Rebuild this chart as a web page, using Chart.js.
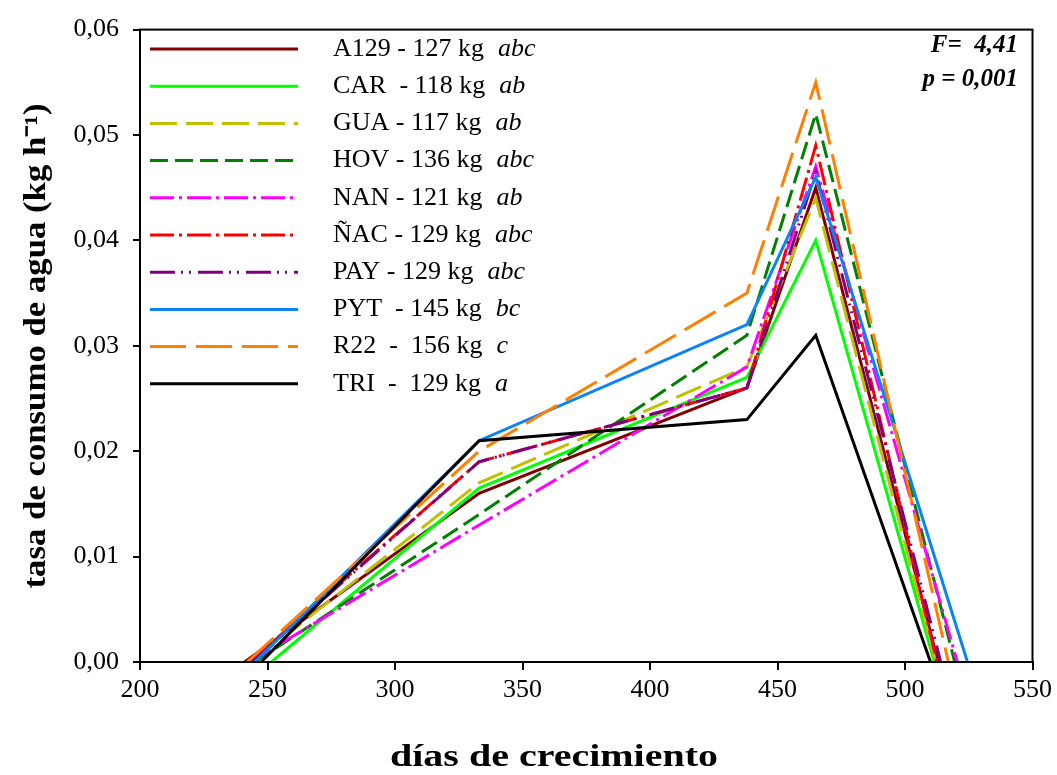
<!DOCTYPE html>
<html>
<head>
<meta charset="utf-8">
<script src="https://cdn.jsdelivr.net/npm/chart.js@4"></script>
<style>
  html, body { margin: 0; padding: 0; background: #fff; }
  canvas { display: block; }
</style>
</head>
<body>
<canvas id="c" width="1057" height="775"></canvas>
<script>
// ---- data ----
const seriesNames  = ['A129', 'CAR', 'GUA', 'HOV', 'NAN', 'ÑAC', 'PAY', 'PYT', 'R22', 'TRI'];
const legendLabels = ['A129 - 127 kg', 'CAR  - 118 kg', 'GUA - 117 kg', 'HOV - 136 kg', 'NAN - 121 kg',
                      'ÑAC - 129 kg', 'PAY - 129 kg', 'PYT  - 145 kg', 'R22  -  156 kg', 'TRI  -  129 kg'];
const groupLetters = ['abc', 'ab', 'ab', 'abc', 'ab', 'abc', 'abc', 'bc', 'c', 'a'];
const startDays    = [241, 251.5, 244, 245, 243, 243, 244, 245, 242, 247.5];
const midDays      = [333, 438, 465];
const endDays      = [513, 511.5, 512, 519.5, 520.5, 512.5, 514, 524.5, 517, 510];
const values333    = [0.016, 0.0165, 0.017, 0.014, 0.013, 0.019, 0.019, 0.021, 0.020, 0.021];
const values438    = [0.026, 0.027, 0.028, 0.031, 0.028, 0.026, 0.026, 0.032, 0.035, 0.023];
const values465    = [0.045, 0.040, 0.044, 0.052, 0.047, 0.049, 0.0465, 0.046, 0.055, 0.031];
const xTicks = [200, 250, 300, 350, 400, 450, 500, 550];
const yTicks = [0, 0.01, 0.02, 0.03, 0.04, 0.05, 0.06];
const xTitle = 'días de crecimiento';
const yTitle = 'tasa de consumo de agua (kg h⁻¹)';
const statF = 'F=  4,41';
const statP = 'p = 0,001';

// ---- styles ----
const colors = ['#800000', '#00FF00', '#C0C000', '#008000', '#FF00FF', '#FF0000', '#800080', '#0A84F5', '#FF8000', '#000000'];
const dashes = [[], [], [27, 9], [18, 7], [24, 5, 3, 5], [24, 5, 3, 5], [25, 6, 2, 6, 2, 7], [], [36, 10], []];

const SERIF = '"Liberation Serif", "Times New Roman", serif';

const datasets = seriesNames.map((name, i) => ({
  label: name,
  data: [
    { x: startDays[i], y: 0 },
    { x: midDays[0], y: values333[i] },
    { x: midDays[1], y: values438[i] },
    { x: midDays[2], y: values465[i] },
    { x: endDays[i], y: 0 }
  ],
  borderColor: colors[i],
  backgroundColor: colors[i],
  borderDash: dashes[i],
  borderWidth: 3,
  pointRadius: 0,
  tension: 0,
  fill: false,
  order: 20 - i
}));

function stretchedText(ctx, text, x, y, targetWidth, rotate) {
  const w = ctx.measureText(text).width;
  const s = targetWidth / w;
  ctx.save();
  ctx.translate(x, y);
  if (rotate) ctx.rotate(-Math.PI / 2);
  ctx.scale(s, 1);
  ctx.textAlign = 'center';
  ctx.textBaseline = 'middle';
  ctx.fillText(text, 0, 0);
  ctx.restore();
}

const framePlugin = {
  id: 'frame',
  afterDraw(chart) {
    const { ctx, chartArea: a } = chart;
    ctx.save();
    ctx.strokeStyle = '#000';
    ctx.lineWidth = 2;
    ctx.strokeRect(a.left, a.top, a.right - a.left, a.bottom - a.top);
    // axis titles
    ctx.fillStyle = '#000';
    ctx.font = 'bold 31px ' + SERIF;
    stretchedText(ctx, xTitle, 554, 758, 328, false);
    stretchedText(ctx, yTitle, 37, 346, 485, true);
    ctx.restore();
  }
};

const legendPlugin = {
  id: 'customLegend',
  afterDraw(chart) {
    const { ctx } = chart;
    ctx.save();
    chart.data.datasets.forEach((ds, i) => {
      const y = 49 + i * 37.2;
      ctx.beginPath();
      ctx.strokeStyle = ds.borderColor;
      ctx.lineWidth = 3;
      ctx.setLineDash(ds.borderDash || []);
      ctx.moveTo(150, y);
      ctx.lineTo(298, y);
      ctx.stroke();
      ctx.setLineDash([]);
      ctx.fillStyle = '#000';
      ctx.textBaseline = 'middle';
      ctx.textAlign = 'left';
      ctx.font = '26px ' + SERIF;
      ctx.fillText(legendLabels[i], 333, y);
      const w = ctx.measureText(legendLabels[i]).width;
      ctx.font = 'italic 26px ' + SERIF;
      ctx.fillText(groupLetters[i], 333 + w + 14, y);
    });
    ctx.font = 'bold italic 25px ' + SERIF;
    ctx.textAlign = 'right';
    ctx.textBaseline = 'middle';
    ctx.fillStyle = '#000';
    ctx.fillText(statF, 1018, 46);
    ctx.fillText(statP, 1018, 80);
    ctx.restore();
  }
};

new Chart(document.getElementById('c'), {
  type: 'line',
  data: { datasets },
  options: {
    responsive: false,
    devicePixelRatio: 1,
    animation: false,
    layout: { padding: { left: 0, top: 20, right: 24, bottom: 0 } },
    plugins: { legend: { display: false }, tooltip: { enabled: false } },
    scales: {
      x: {
        type: 'linear',
        min: xTicks[0],
        max: xTicks[xTicks.length - 1],
        afterFit(scale) { scale.height = 113; },
        afterBuildTicks(scale) { scale.ticks = xTicks.map(v => ({ value: v })); },
        ticks: { color: '#000', font: { family: SERIF, size: 26 }, padding: 5, maxRotation: 0,
                 callback: v => String(v) },
        grid: { drawOnChartArea: false, drawTicks: true, tickLength: 8, color: '#000', lineWidth: 2 },
        border: { display: true, color: '#000', width: 2 },
        title: { display: false }
      },
      y: {
        type: 'linear',
        min: yTicks[0],
        max: yTicks[yTicks.length - 1],
        afterFit(scale) { scale.width = 140; },
        afterBuildTicks(scale) { scale.ticks = yTicks.map(v => ({ value: v })); },
        ticks: { color: '#000', font: { family: SERIF, size: 26 }, padding: 14,
                 callback: v => Number(v).toFixed(2).replace('.', ',') },
        grid: { drawOnChartArea: false, drawTicks: true, tickLength: 7, color: '#000', lineWidth: 2 },
        border: { display: true, color: '#000', width: 2 },
        title: { display: false }
      }
    }
  },
  plugins: [framePlugin, legendPlugin]
});
</script>
</body>
</html>
